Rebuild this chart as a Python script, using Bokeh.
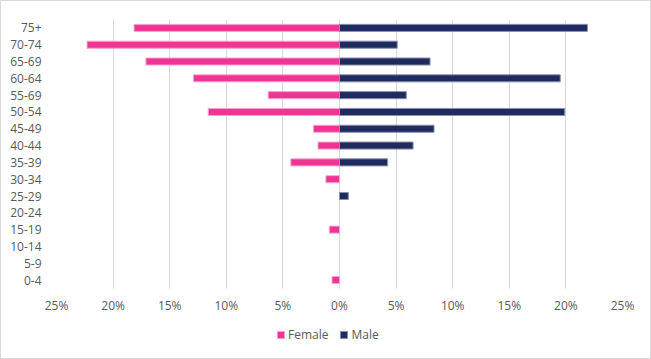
from bokeh.plotting import figure
from bokeh.models import (Range1d, FixedTicker, CustomJSTickFormatter,
                          Legend, LegendItem, ColumnDataSource)
from bokeh.embed import file_html
from bokeh.resources import INLINE

age_groups = ["0-4", "5-9", "10-14", "15-19", "20-24", "25-29", "30-34", "35-39",
              "40-44", "45-49", "50-54", "55-69", "60-64", "65-69", "70-74", "75+"]
female = [0.66, 0, 0, 0.9, 0, 0, 1.2, 4.3, 1.9, 2.3, 11.6, 6.3, 12.9, 17.1, 22.3, 18.15]
male = [0, 0, 0, 0, 0, 0.78, 0, 4.25, 6.5, 8.35, 19.9, 5.9, 19.5, 8.0, 5.1, 21.9]
x_ticks = [-25, -20, -15, -10, -5, 0, 5, 10, 15, 20, 25]

FEMALE_COLOR = "#EF3494"
MALE_COLOR = "#1F2A5E"
TEXT_COLOR = "#595959"
FONT = "Open Sans"

pos = list(range(len(age_groups)))
f_src = ColumnDataSource(dict(
    y=[i for i, v in zip(pos, female) if v > 0],
    left=[-v for v in female if v > 0],
    right=[0 for v in female if v > 0],
))
m_src = ColumnDataSource(dict(
    y=[i for i, v in zip(pos, male) if v > 0],
    left=[0 for v in male if v > 0],
    right=[v for v in male if v > 0],
))

# frame spans rows (16 rows = 269px) plus room below for axis labels and legend
p = figure(width=651, height=359, output_backend="svg", toolbar_location=None,
           x_range=Range1d(-25, 25), y_range=Range1d(-4.25, 15.5),
           min_border_left=55, min_border_right=30, min_border_top=18, min_border_bottom=9)
p.styles = {"border": "1px solid #D9D9D9", "box-sizing": "border-box"}

rf = p.hbar(y="y", left="left", right="right", height=0.42, source=f_src,
            fill_color=FEMALE_COLOR, line_color="#F7A6CD", line_width=1)
rm = p.hbar(y="y", left="left", right="right", height=0.42, source=m_src,
            fill_color=MALE_COLOR, line_color="#8A90AE", line_width=1)

p.outline_line_color = None
p.ygrid.grid_line_color = None
p.xgrid.ticker = FixedTicker(ticks=x_ticks)
p.xgrid.grid_line_color = "#D9D9D9"
p.xgrid.grid_line_width = 1
p.xgrid.cross_bounds = (-0.5, 15.5)

p.xaxis.ticker = FixedTicker(ticks=x_ticks)
p.xaxis.formatter = CustomJSTickFormatter(code="return Math.abs(tick) + '%';")
p.yaxis.ticker = FixedTicker(ticks=pos)
p.yaxis.major_label_overrides = {i: g for i, g in zip(pos, age_groups)}
for ax in (p.xaxis[0], p.yaxis[0]):
    ax.axis_line_color = None
    ax.major_tick_line_color = None
    ax.minor_tick_line_color = None
    ax.major_label_text_font = FONT
    ax.major_label_text_font_size = "12px"
    ax.major_label_text_color = TEXT_COLOR
p.xaxis.major_label_standoff = -61
p.yaxis.major_label_standoff = 9

legend = Legend(items=[LegendItem(label="Female", renderers=[rf]),
                       LegendItem(label="Male", renderers=[rm])],
                orientation="horizontal", location=(220, 8),
                padding=0, margin=0, spacing=11,
                glyph_width=9, glyph_height=9, label_height=12, label_standoff=3,
                label_text_font=FONT, label_text_font_size="12px",
                label_text_color=TEXT_COLOR,
                border_line_color=None, background_fill_alpha=0)
p.add_layout(legend, "center")

open("out.html", "w").write(file_html(p, INLINE))
